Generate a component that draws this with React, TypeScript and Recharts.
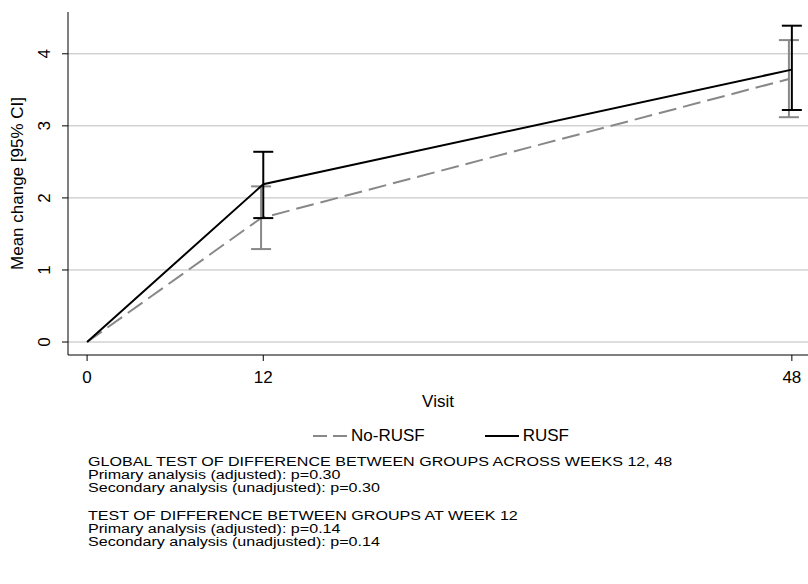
import React from 'react';
import { ComposedChart, Line, XAxis, YAxis, CartesianGrid, ErrorBar } from 'recharts';

const visits = [0, 12, 48];
const noRusfX = [0, 11.85, 47.8];
const noRusfMean = [0, 1.72, 3.65];
const noRusfLow = [0, 1.29, 3.12];
const noRusfHigh = [0, 2.16, 4.19];
const rusfMean = [0, 2.19, 3.78];
const rusfLow = [0, 1.72, 3.22];
const rusfHigh = [0, 2.64, 4.39];
const yTicks = [0, 1, 2, 3, 4];

const noRusfData = noRusfX.map((x, i) => ({
  x,
  y: noRusfMean[i],
  err: i === 0 ? null : [noRusfMean[i] - noRusfLow[i], noRusfHigh[i] - noRusfMean[i]],
}));
const rusfData = visits.map((x, i) => ({
  x,
  y: rusfMean[i],
  err: i === 0 ? null : [rusfMean[i] - rusfLow[i], rusfHigh[i] - rusfMean[i]],
}));

const font = 'Liberation Sans, Arial, sans-serif';

const YTick = ({ x, y, payload }: any) => (
  <text x={x - 10} y={y} transform={`rotate(-90 ${x - 10} ${y})`} textAnchor="middle" fontSize={17} fill="#000" fontFamily={font}>
    {payload.value}
  </text>
);

const XTick = ({ x, y, payload }: any) => (
  <text x={x} y={y + 20} textAnchor="middle" fontSize={17} fill="#000" fontFamily={font}>
    {payload.value}
  </text>
);

export default function App() {
  return (
    <div style={{ position: 'absolute', left: 0, top: 0, width: 808, height: 584, background: '#fff', fontFamily: font }}>
      <ComposedChart width={808} height={410} margin={{ top: 12, right: 0, left: 0, bottom: 0 }}>
        <CartesianGrid horizontal vertical={false} stroke="#bbb" horizontalValues={yTicks} />
        <XAxis
          type="number"
          dataKey="x"
          domain={[-1.3, 49.1]}
          ticks={visits}
          height={55}
          allowDuplicatedCategory={false}
          stroke="#000"
          tick={<XTick />}
          tickSize={6}
          label={{ value: 'Visit', position: 'insideBottom', offset: 3, fontSize: 17, fill: '#000', fontFamily: font }}
        />
        <YAxis
          type="number"
          domain={[-0.18, 4.58]}
          ticks={yTicks}
          width={68}
          stroke="#000"
          tick={<YTick />}
          tickSize={6}
          label={{ value: 'Mean change [95% CI]', angle: -90, position: 'insideLeft', dx: 12, dy: 0, fontSize: 17, fill: '#000', fontFamily: font, style: { textAnchor: 'middle' } }}
        />
        <Line data={noRusfData} dataKey="y" stroke="#888" strokeWidth={2} strokeDasharray="18 7" dot={false} isAnimationActive={false}>
          <ErrorBar dataKey="err" direction="y" width={10} stroke="#888" strokeWidth={2} />
        </Line>
        <Line data={rusfData} dataKey="y" stroke="#000" strokeWidth={2} dot={false} isAnimationActive={false}>
          <ErrorBar dataKey="err" direction="y" width={10} stroke="#000" strokeWidth={2} />
        </Line>
      </ComposedChart>
      <div style={{ position: 'absolute', top: 426, left: 313, display: 'flex', alignItems: 'center', fontSize: 17 }}>
        <svg width={36} height={4}><line x1={0} y1={2} x2={36} y2={2} stroke="#888" strokeWidth={2} strokeDasharray="14 6" /></svg>
        <span style={{ marginLeft: 2 }}>No-RUSF</span>
        <svg width={34} height={4} style={{ marginLeft: 60 }}><line x1={0} y1={2} x2={34} y2={2} stroke="#000" strokeWidth={2} /></svg>
        <span style={{ marginLeft: 4 }}>RUSF</span>
      </div>
      <div style={{ position: 'absolute', top: 456, left: 88, fontSize: 12, lineHeight: '12.8px', transform: 'scaleX(1.34)', transformOrigin: 'left top', whiteSpace: 'nowrap' }}>
        <div>GLOBAL TEST OF DIFFERENCE BETWEEN GROUPS ACROSS WEEKS 12, 48</div>
        <div>Primary analysis (adjusted): p=0.30</div>
        <div>Secondary analysis (unadjusted): p=0.30</div>
        <div style={{ height: 16 }} />
        <div>TEST OF DIFFERENCE BETWEEN GROUPS AT WEEK 12</div>
        <div>Primary analysis (adjusted): p=0.14</div>
        <div>Secondary analysis (unadjusted): p=0.14</div>
      </div>
    </div>
  );
}
